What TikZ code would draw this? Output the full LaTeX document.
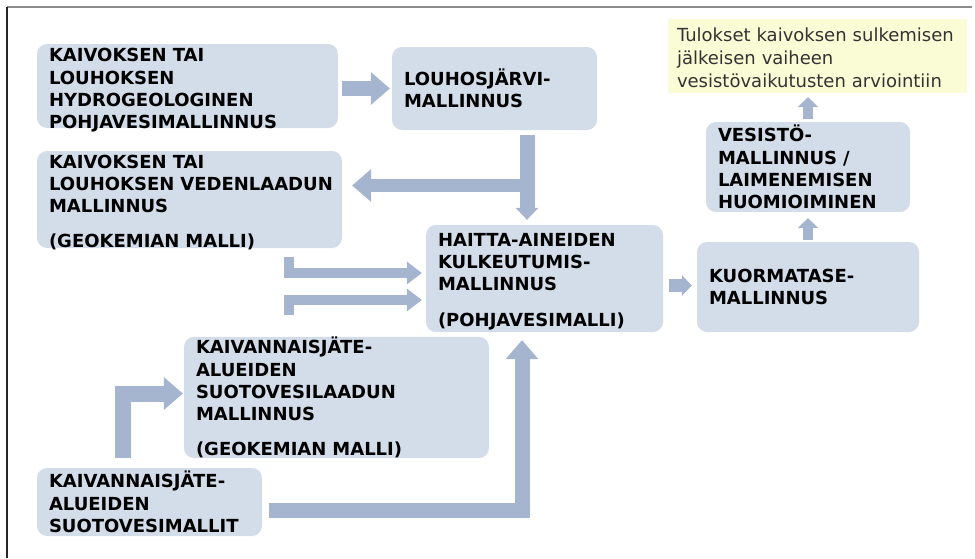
\documentclass[tikz,border=0pt]{standalone}
\usepackage{fontspec}
\setmainfont{DejaVu Sans}
\usetikzlibrary{arrows.meta, positioning}
\definecolor{boxfill}{HTML}{D3DDE9}
\definecolor{flowblue}{HTML}{A5B5CF}
\definecolor{notefill}{HTML}{FAFCD6}
\definecolor{notetext}{HTML}{333333}
\definecolor{framegray}{HTML}{8C8C8C}

\begin{document}
\begin{tikzpicture}[x=1pt, y=-1pt,
    box/.style={fill=boxfill, rounded corners=10pt,
      inner xsep=12pt, inner ysep=0pt, align=left,
      execute at begin node={\hyphenpenalty=10000},
      font=\bfseries\fontsize{18}{22.4}\selectfont},
    lowbox/.style={box, execute at end node={\endgraf\kern-#1}},
    note/.style={fill=notefill, inner xsep=9pt, inner ysep=0pt,
      align=left, text=notetext,
      execute at end node={\endgraf\kern-4pt},
      font=\fontsize{18}{23}\selectfont},
    bigflow/.style={draw=flowblue, line width=15pt,
      -{Triangle[length=19pt, width=33pt, line width=0pt]}},
    splitflow/.style={draw=flowblue, line width=15pt,
      -{Triangle[length=12pt, width=23pt, line width=0pt]}},
    midflow/.style={draw=flowblue, line width=10pt,
      -{Triangle[length=15pt, width=23pt, line width=0pt]}},
    smallflow/.style={draw=flowblue, line width=10pt,
      -{Triangle[length=10pt, width=21pt, line width=0pt]}},
]
\useasboundingbox (0,0) rectangle (975,558);
\draw[framegray, line width=2pt] (7,7) -- (972,7);
\draw[black!85, line width=2pt] (7,7) -- (7,558);

\node[lowbox=9pt, text width=277pt, minimum height=84pt] (hydro) at (187.5, 86)
    {KAIVOKSEN~TAI\\LOUHOKSEN\\HYDROGEOLOGINEN\\POHJAVESIMALLINNUS};
\node[box, text width=181pt, minimum height=83pt] (jarvi) at (494.5, 88.5)
    {LOUHOSJÄRVI-\\MALLINNUS};
\node[lowbox=6pt, text width=281pt, minimum height=97pt] (vedenlaatu) at (189.5, 199.5)
    {KAIVOKSEN~TAI\\LOUHOKSEN~VEDENLAADUN\\MALLINNUS\\[12.5pt]
     (GEOKEMIAN~MALLI)};
\node[lowbox=6pt, text width=213pt, minimum height=107pt] (haitta) at (544.5, 278.5)
    {HAITTA-AINEIDEN\\KULKEUTUMIS-\\MALLINNUS\\[13pt]
     (POHJAVESIMALLI)};
\node[box, text width=281pt, minimum height=121pt] (suotolaatu) at (336.5, 397.5)
    {KAIVANNAISJÄTE-\\ALUEIDEN\\SUOTOVESILAADUN\\MALLINNUS\\[12.5pt]
     (GEOKEMIAN~MALLI)};
\node[box, text width=201pt, minimum height=68pt] (suotomallit) at (149.5, 502)
    {KAIVANNAISJÄTE-\\ALUEIDEN\\SUOTOVESIMALLIT};
\node[box, text width=198pt, minimum height=90pt] (kuormitus) at (808, 287)
    {KUORMATASE-\\MALLINNUS};
\node[box, text width=180pt, minimum height=90pt] (vesisto) at (808, 167)
    {VESISTÖ-\\MALLINNUS~/\\LAIMENEMISEN\\HUOMIOIMINEN};
\node[note, text width=281pt, minimum height=74pt] (tulokset) at (817.5, 56)
    {Tulokset~kaivoksen~sulkemisen\\jälkeisen~vaiheen\\vesistövaikutusten~arviointiin};

% nuolet
\coordinate (jakaja) at (527, 185.5);
\coordinate (ylahaara) at (288.5, 257);
\coordinate (alahaara) at (288.5, 315);
\coordinate (nousu) at (122.5, 458);
\draw[bigflow, shorten <=4pt, shorten >=2pt] (hydro.east |- jarvi.west) -- (jarvi.west);
\draw[splitflow, shorten <=5pt, shorten >=5pt] (jarvi.south -| jakaja) -- (haitta.north -| jakaja);
\draw[bigflow, line width=13pt, shorten >=10pt] (jakaja) -- (vedenlaatu.east |- jakaja);
\draw[midflow, shorten >=4pt] (ylahaara) |- ([yshift=5.5pt]haitta.west);
\draw[midflow, shorten >=4pt] (alahaara) |- ([yshift=-21.5pt]haitta.west);
\draw[bigflow, line width=16pt, shorten >=1pt] (nousu) |- ([yshift=4pt]suotolaatu.west);
\draw[bigflow, shorten <=7pt, shorten >=8pt]
    ([yshift=-8.5pt]suotomallit.east) -| ([xshift=-22.5pt]haitta.south);
\draw[smallflow, line width=13pt, shorten <=6pt, shorten >=5pt]
    ([yshift=-7pt]haitta.east) coordinate (ulos) -- (ulos -| kuormitus.west);
\draw[smallflow, shorten <=2pt, shorten >=6pt] (kuormitus.north) -- (vesisto.south);
\draw[smallflow, shorten <=3pt, shorten >=4pt] (vesisto.north) -- (tulokset.south -| vesisto.north);
\end{tikzpicture}
\end{document}
